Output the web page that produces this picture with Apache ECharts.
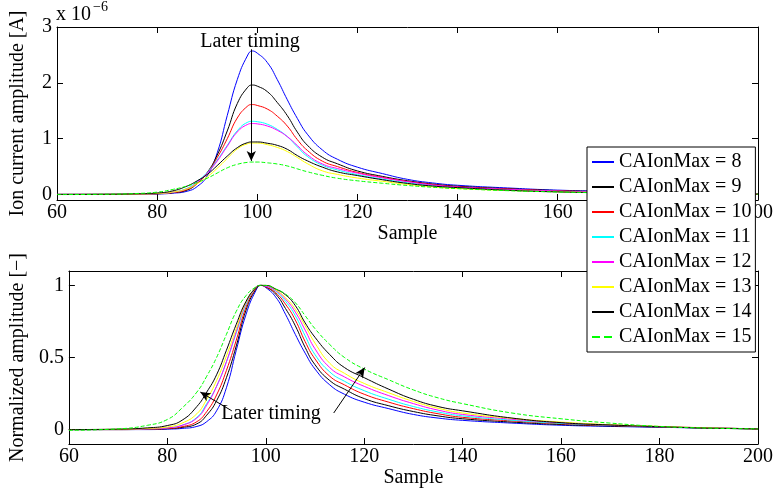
<!DOCTYPE html>
<html><head><meta charset="utf-8">
<script src="https://cdn.jsdelivr.net/npm/echarts@6/dist/echarts.min.js"></script>
<style>html,body{margin:0;padding:0;background:#fff}#c{width:776px;height:490px}</style>
</head><body><div id="c"></div>
<script>
// Sample positions (x axis)
const samples = [60, 70, 76, 80, 83, 86, 88, 90, 92, 94, 96, 98, 99, 100, 102, 104, 106, 108, 110, 113, 116, 120, 125, 130, 135, 140, 150, 160, 170, 180, 190, 200];

const seriesNames = ['CAIonMax = 8', 'CAIonMax = 9', 'CAIonMax = 10', 'CAIonMax = 11', 'CAIonMax = 12', 'CAIonMax = 13', 'CAIonMax = 14', 'CAIonMax = 15'];
const seriesColors = ['#0000ff', '#000000', '#ff0000', '#00ffff', '#ff00ff', '#ffff00', '#000000', '#00ff00'];
const seriesDash = ['solid', 'solid', 'solid', 'solid', 'solid', 'solid', 'solid', 'dashed'];

// Ion current amplitude, units of 1e-6 A (top plot)
const ion8  = [0, 0, 0, 0.008, 0.021, 0.057, 0.141, 0.334, 0.745, 1.414, 2.056, 2.480, 2.570, 2.531, 2.364, 2.056, 1.696, 1.362, 1.079, 0.797, 0.630, 0.488, 0.373, 0.270, 0.206, 0.164, 0.116, 0.077, 0.057, 0.041, 0.026, 0.013];
const ion9  = [0, 0, 0.004, 0.012, 0.029, 0.078, 0.196, 0.392, 0.706, 1.137, 1.627, 1.911, 1.960, 1.940, 1.842, 1.646, 1.411, 1.117, 0.882, 0.666, 0.549, 0.421, 0.323, 0.245, 0.186, 0.147, 0.102, 0.069, 0.049, 0.035, 0.022, 0.010];
const ion10 = [0, 0, 0.005, 0.013, 0.032, 0.089, 0.201, 0.386, 0.660, 0.998, 1.369, 1.578, 1.610, 1.594, 1.530, 1.401, 1.224, 0.982, 0.789, 0.596, 0.499, 0.394, 0.306, 0.233, 0.177, 0.137, 0.097, 0.064, 0.045, 0.031, 0.019, 0.008];
const ion11 = [0, 0.001, 0.007, 0.016, 0.039, 0.111, 0.236, 0.393, 0.616, 0.878, 1.140, 1.290, 1.310, 1.303, 1.258, 1.166, 1.035, 0.852, 0.681, 0.524, 0.439, 0.354, 0.275, 0.210, 0.160, 0.124, 0.085, 0.056, 0.039, 0.026, 0.016, 0.007];
const ion12 = [0, 0.001, 0.006, 0.015, 0.038, 0.102, 0.216, 0.381, 0.597, 0.864, 1.118, 1.251, 1.270, 1.264, 1.226, 1.149, 1.035, 0.876, 0.711, 0.546, 0.464, 0.381, 0.298, 0.229, 0.171, 0.133, 0.091, 0.061, 0.041, 0.027, 0.015, 0.006];
const ion13 = [0, 0.002, 0.007, 0.017, 0.041, 0.101, 0.193, 0.313, 0.469, 0.644, 0.814, 0.906, 0.920, 0.920, 0.892, 0.842, 0.768, 0.662, 0.552, 0.423, 0.359, 0.294, 0.235, 0.179, 0.136, 0.106, 0.072, 0.048, 0.031, 0.020, 0.011, 0.005];
const ion14 = [0, 0.003, 0.011, 0.026, 0.061, 0.150, 0.244, 0.357, 0.517, 0.686, 0.837, 0.926, 0.940, 0.940, 0.917, 0.879, 0.808, 0.696, 0.602, 0.489, 0.404, 0.338, 0.263, 0.197, 0.150, 0.122, 0.075, 0.045, 0.030, 0.019, 0.009, 0.005];
const ion15 = [-0.003, 0.003, 0.017, 0.041, 0.087, 0.151, 0.215, 0.290, 0.383, 0.476, 0.539, 0.574, 0.580, 0.580, 0.566, 0.545, 0.510, 0.458, 0.406, 0.342, 0.290, 0.244, 0.200, 0.160, 0.128, 0.104, 0.067, 0.044, 0.026, 0.013, 0.006, 0.003];

// Normalized amplitude (bottom plot)
const norm8  = [0, 0, 0, 0.003, 0.008, 0.022, 0.055, 0.13, 0.29, 0.55, 0.80, 0.965, 1.0, 0.985, 0.92, 0.80, 0.66, 0.53, 0.42, 0.31, 0.245, 0.19, 0.145, 0.105, 0.08, 0.064, 0.045, 0.03, 0.022, 0.016, 0.01, 0.005];
const norm9  = [0, 0, 0.002, 0.006, 0.015, 0.04, 0.10, 0.20, 0.36, 0.58, 0.83, 0.975, 1.0, 0.99, 0.94, 0.84, 0.72, 0.57, 0.45, 0.34, 0.28, 0.215, 0.165, 0.125, 0.095, 0.075, 0.052, 0.035, 0.025, 0.018, 0.011, 0.005];
const norm10 = [0, 0, 0.003, 0.008, 0.02, 0.055, 0.125, 0.24, 0.41, 0.62, 0.85, 0.98, 1.0, 0.99, 0.95, 0.87, 0.76, 0.61, 0.49, 0.37, 0.31, 0.245, 0.19, 0.145, 0.11, 0.085, 0.06, 0.04, 0.028, 0.019, 0.012, 0.005];
const norm11 = [0, 0.001, 0.005, 0.012, 0.03, 0.085, 0.18, 0.30, 0.47, 0.67, 0.87, 0.985, 1.0, 0.995, 0.96, 0.89, 0.79, 0.65, 0.52, 0.40, 0.335, 0.27, 0.21, 0.16, 0.122, 0.095, 0.065, 0.043, 0.03, 0.02, 0.012, 0.005];
const norm12 = [0, 0.001, 0.005, 0.012, 0.03, 0.08, 0.17, 0.30, 0.47, 0.68, 0.88, 0.985, 1.0, 0.995, 0.965, 0.905, 0.815, 0.69, 0.56, 0.43, 0.365, 0.30, 0.235, 0.18, 0.135, 0.105, 0.072, 0.048, 0.032, 0.021, 0.012, 0.005];
const norm13 = [0, 0.002, 0.008, 0.018, 0.045, 0.11, 0.21, 0.34, 0.51, 0.70, 0.885, 0.985, 1.0, 1.0, 0.97, 0.915, 0.835, 0.72, 0.60, 0.46, 0.39, 0.32, 0.255, 0.195, 0.148, 0.115, 0.078, 0.052, 0.034, 0.022, 0.012, 0.005];
const norm14 = [0, 0.003, 0.012, 0.028, 0.065, 0.16, 0.26, 0.38, 0.55, 0.73, 0.89, 0.985, 1.0, 1.0, 0.975, 0.935, 0.86, 0.74, 0.64, 0.52, 0.43, 0.36, 0.28, 0.21, 0.16, 0.13, 0.08, 0.048, 0.032, 0.02, 0.01, 0.005];
const norm15 = [-0.005, 0.005, 0.03, 0.07, 0.15, 0.26, 0.37, 0.50, 0.66, 0.82, 0.93, 0.99, 1.0, 1.0, 0.975, 0.94, 0.88, 0.79, 0.70, 0.59, 0.50, 0.42, 0.345, 0.275, 0.22, 0.18, 0.115, 0.075, 0.045, 0.022, 0.01, 0.005];

const ionSets = [ion8, ion9, ion10, ion11, ion12, ion13, ion14, ion15];
const normSets = [norm8, norm9, norm10, norm11, norm12, norm13, norm14, norm15];

const ionTicks = [0, 1, 2, 3];
const normTicks = [0, 0.5, 1];

// Annotation arrows, in data coordinates: [fromX, fromY, toX, toY]
const topArrow = [98.8, 2.6, 98.8, 0.6];
const bottomArrowLeft = [93.1, 0.13, 86.7, 0.26];
const bottomArrowRight = [113.8, 0.115, 120.1, 0.43];

const FONT = 'Liberation Serif';
const FS = 20;

function boxX(gridIndex, pos, showLabels, name) {
  return {
    type: 'value', gridIndex, position: pos, min: 60, max: 200, interval: 20,
    axisLine: { show: true, onZero: false, lineStyle: { color: '#000', width: 1 } },
    axisTick: { show: true, inside: true, length: 6, lineStyle: { color: '#000' } },
    axisLabel: { show: showLabels, color: '#000', fontFamily: FONT, fontSize: FS, margin: 3 },
    splitLine: { show: false },
    name: name || '', nameLocation: 'middle', nameGap: 22,
    nameTextStyle: { color: '#000', fontFamily: FONT, fontSize: FS }
  };
}
function boxY(gridIndex, pos, showLabels, min, max, ticks, name) {
  return {
    type: 'value', gridIndex, position: pos, min, max,
    axisLine: { show: true, onZero: false, lineStyle: { color: '#000', width: 1 } },
    axisTick: { show: true, inside: true, length: 6, customValues: ticks, lineStyle: { color: '#000' } },
    axisLabel: { show: showLabels, customValues: ticks, color: '#000', fontFamily: FONT, fontSize: FS, margin: 5 },
    splitLine: { show: false },
    name: name || '', nameLocation: 'middle', nameGap: 29, nameRotate: 90,
    nameTextStyle: { color: '#000', fontFamily: FONT, fontSize: FS }
  };
}

function arrowLine(a) {
  return {
    silent: true, symbol: ['none', 'arrow'], symbolSize: [7, 10],
    lineStyle: { color: '#000', width: 1, type: 'solid' },
    label: { show: false }, emphasis: { disabled: true },
    data: [[{ coord: [a[0], a[1]] }, { coord: [a[2], a[3]] }]]
  };
}

const series = [];
seriesNames.forEach((nm, k) => {
  series.push({
    name: nm, type: 'line', xAxisIndex: 0, yAxisIndex: 0,
    data: samples.map((s, i) => [s, ionSets[k][i]]),
    showSymbol: false, symbol: 'none', smooth: 0.5,
    lineStyle: { color: seriesColors[k], width: 1, type: seriesDash[k] },
    itemStyle: { color: seriesColors[k] }, z: 2 + k * 0.01,
    markLine: k === 7 ? arrowLine(topArrow) : undefined
  });
});
seriesNames.forEach((nm, k) => {
  series.push({
    name: nm, type: 'line', xAxisIndex: 2, yAxisIndex: 2,
    data: samples.map((s, i) => [s, normSets[k][i]]),
    showSymbol: false, symbol: 'none', smooth: 0.5,
    lineStyle: { color: seriesColors[k], width: 1, type: seriesDash[k] },
    itemStyle: { color: seriesColors[k] }, z: 2 + k * 0.01
  });
});
series.push({
  name: '_arrows', type: 'line', xAxisIndex: 2, yAxisIndex: 2, data: [],
  markLine: arrowLine(bottomArrowLeft)
});
series.push({
  name: '_arrows2', type: 'line', xAxisIndex: 2, yAxisIndex: 2, data: [],
  markLine: arrowLine(bottomArrowRight)
});

const chart = echarts.init(document.getElementById('c'), null, { renderer: 'canvas' });
chart.setOption({
  animation: false,
  backgroundColor: '#fff',
  textStyle: { fontFamily: FONT },
  grid: [
    { left: 56, top: 27, width: 702, height: 173, containLabel: false },
    { left: 56, top: 271, width: 702, height: 173, containLabel: false }
  ],
  xAxis: [
    boxX(0, 'bottom', true, 'Sample'),
    boxX(0, 'top', false),
    boxX(1, 'bottom', true, 'Sample'),
    boxX(1, 'top', false)
  ],
  yAxis: [
    boxY(0, 'left', true, -0.1, 3, ionTicks, 'Ion current amplitude [A]'),
    boxY(0, 'right', false, -0.1, 3, ionTicks),
    boxY(1, 'left', true, -0.1, 1.1, normTicks, 'Normalized amplitude [\u2212]'),
    boxY(1, 'right', false, -0.1, 1.1, normTicks)
  ],
  legend: {
    data: seriesNames, orient: 'vertical', left: 587, top: 147,
    itemWidth: 22, itemHeight: 2, itemGap: 5, padding: [5, 4, 5, 4],
    backgroundColor: '#fff', borderColor: '#000', borderWidth: 1, borderRadius: 0,
    selectedMode: false, z: 10,
    itemStyle: { opacity: 0 },
    textStyle: { color: '#000', fontFamily: FONT, fontSize: FS }
  },
  graphic: [
    { type: 'text', left: 56, top: 5, style: { text: 'x 10', font: '20px "Liberation Serif"', fill: '#000' } },
    { type: 'text', left: 93, top: 0, style: { text: '\u22126', font: '14px "Liberation Serif"', fill: '#000' } },
    { type: 'text', x: 250, y: 42, style: { text: 'Later timing', font: '20px "Liberation Serif"', fill: '#000', align: 'center', verticalAlign: 'middle' }, z: 20 },
    { type: 'text', x: 271, y: 414, style: { text: 'Later timing', font: '20px "Liberation Serif"', fill: '#000', align: 'center', verticalAlign: 'middle' }, z: 20 }
  ],
  series
});
</script>
</body></html>
